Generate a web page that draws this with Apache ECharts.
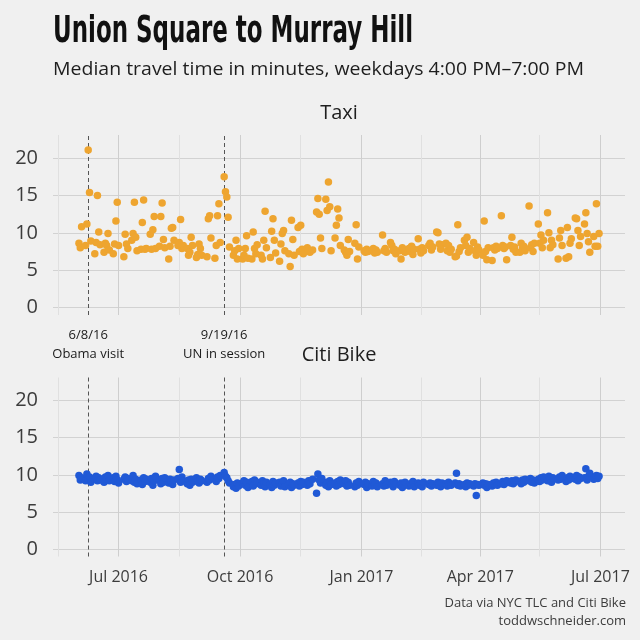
<!DOCTYPE html>
<html><head><meta charset="utf-8">
<script src="https://cdn.jsdelivr.net/npm/echarts@6/dist/echarts.min.js"></script>
<style>html,body{margin:0;padding:0;background:#f0f0f0}#c{width:640px;height:640px}</style>
</head><body><div id="c"></div><script>
// ---- data (one line per week, weekdays) ----
const dates = [
'2016-06-01','2016-06-02','2016-06-03',
'2016-06-06','2016-06-07','2016-06-08','2016-06-09','2016-06-10',
'2016-06-13','2016-06-14','2016-06-15','2016-06-16','2016-06-17',
'2016-06-20','2016-06-21','2016-06-22','2016-06-23','2016-06-24',
'2016-06-27','2016-06-28','2016-06-29','2016-06-30','2016-07-01',
'2016-07-05','2016-07-06','2016-07-07','2016-07-08',
'2016-07-11','2016-07-12','2016-07-13','2016-07-14','2016-07-15',
'2016-07-18','2016-07-19','2016-07-20','2016-07-21','2016-07-22',
'2016-07-25','2016-07-26','2016-07-27','2016-07-28','2016-07-29',
'2016-08-01','2016-08-02','2016-08-03','2016-08-04','2016-08-05',
'2016-08-08','2016-08-09','2016-08-10','2016-08-11','2016-08-12',
'2016-08-15','2016-08-16','2016-08-17','2016-08-18','2016-08-19',
'2016-08-22','2016-08-23','2016-08-24','2016-08-25','2016-08-26',
'2016-08-29','2016-08-30','2016-08-31','2016-09-01','2016-09-02',
'2016-09-06','2016-09-07','2016-09-08','2016-09-09',
'2016-09-12','2016-09-13','2016-09-14','2016-09-15','2016-09-16',
'2016-09-19','2016-09-20','2016-09-21','2016-09-22','2016-09-23',
'2016-09-26','2016-09-27','2016-09-28','2016-09-29','2016-09-30',
'2016-10-03','2016-10-04','2016-10-05','2016-10-06','2016-10-07',
'2016-10-10','2016-10-11','2016-10-12','2016-10-13','2016-10-14',
'2016-10-17','2016-10-18','2016-10-19','2016-10-20','2016-10-21',
'2016-10-24','2016-10-25','2016-10-26','2016-10-27','2016-10-28',
'2016-10-31','2016-11-01','2016-11-02','2016-11-03','2016-11-04',
'2016-11-07','2016-11-08','2016-11-09','2016-11-10','2016-11-11',
'2016-11-14','2016-11-15','2016-11-16','2016-11-17','2016-11-18',
'2016-11-21','2016-11-22','2016-11-23','2016-11-25',
'2016-11-28','2016-11-29','2016-11-30','2016-12-01','2016-12-02',
'2016-12-05','2016-12-06','2016-12-07','2016-12-08','2016-12-09',
'2016-12-12','2016-12-13','2016-12-14','2016-12-15','2016-12-16',
'2016-12-19','2016-12-20','2016-12-21','2016-12-22','2016-12-23',
'2016-12-27','2016-12-28','2016-12-29','2016-12-30',
'2017-01-03','2017-01-04','2017-01-05','2017-01-06',
'2017-01-09','2017-01-10','2017-01-11','2017-01-12','2017-01-13',
'2017-01-17','2017-01-18','2017-01-19','2017-01-20',
'2017-01-23','2017-01-24','2017-01-25','2017-01-26','2017-01-27',
'2017-01-30','2017-01-31','2017-02-01','2017-02-02','2017-02-03',
'2017-02-06','2017-02-07','2017-02-08','2017-02-09','2017-02-10',
'2017-02-13','2017-02-14','2017-02-15','2017-02-16','2017-02-17',
'2017-02-21','2017-02-22','2017-02-23','2017-02-24',
'2017-02-27','2017-02-28','2017-03-01','2017-03-02','2017-03-03',
'2017-03-06','2017-03-07','2017-03-08','2017-03-09','2017-03-10',
'2017-03-13','2017-03-14','2017-03-15','2017-03-16','2017-03-17',
'2017-03-20','2017-03-21','2017-03-22','2017-03-23','2017-03-24',
'2017-03-27','2017-03-28','2017-03-29','2017-03-30','2017-03-31',
'2017-04-03','2017-04-04','2017-04-05','2017-04-06','2017-04-07',
'2017-04-10','2017-04-11','2017-04-12','2017-04-13','2017-04-14',
'2017-04-17','2017-04-18','2017-04-19','2017-04-20','2017-04-21',
'2017-04-24','2017-04-25','2017-04-26','2017-04-27','2017-04-28',
'2017-05-01','2017-05-02','2017-05-03','2017-05-04','2017-05-05',
'2017-05-08','2017-05-09','2017-05-10','2017-05-11','2017-05-12',
'2017-05-15','2017-05-16','2017-05-17','2017-05-18','2017-05-19',
'2017-05-22','2017-05-23','2017-05-24','2017-05-25','2017-05-26',
'2017-05-30','2017-05-31','2017-06-01','2017-06-02',
'2017-06-05','2017-06-06','2017-06-07','2017-06-08','2017-06-09',
'2017-06-12','2017-06-13','2017-06-14','2017-06-15','2017-06-16',
'2017-06-19','2017-06-20','2017-06-21','2017-06-22','2017-06-23',
'2017-06-26','2017-06-27','2017-06-28','2017-06-29','2017-06-30'
];
const taxi = [
8.6,8.0,10.8,
8.3,11.2,21.1,15.4,8.9,
7.2,8.7,15.0,10.1,8.4,
7.4,8.6,8.3,9.9,7.7,
7.2,8.5,11.6,14.1,8.3,
6.8,9.8,8.5,7.9,
9.0,9.9,14.1,9.4,7.6,
7.8,11.4,14.4,7.8,7.9,
9.8,7.8,10.4,12.2,7.9,
8.2,12.2,14.0,9.1,8.0,
6.5,8.2,10.6,10.7,9.0,
8.3,8.7,11.8,7.9,8.3,
7.9,7.0,7.4,9.4,8.3,
6.7,7.1,8.5,7.9,7.0,
6.8,11.9,12.3,9.3,
6.6,8.3,12.3,13.9,8.7,
17.5,15.5,14.8,12.1,8.1,
7.0,7.6,9.0,6.5,7.9,
6.5,7.0,7.9,9.6,6.6,
6.5,10.1,7.9,7.2,8.4,
7.0,6.5,9.0,12.9,8.0,
6.7,10.2,11.9,9.0,7.3,
6.2,8.5,9.9,10.3,7.6,
7.2,5.5,11.7,9.1,7.0,
10.7,7.5,11.0,7.8,7.2,
8.0,7.6,7.4,7.7,
12.8,14.6,12.5,9.3,7.9,
14.5,13.0,16.8,13.5,7.6,
9.3,11.0,13.2,12.0,8.3,
7.7,7.4,7.0,9.1,7.5,
8.6,11.1,6.5,8.1,
7.6,7.4,7.8,7.5,
7.6,7.9,7.3,7.7,7.4,
9.7,7.6,7.9,7.4,
8.7,8.3,7.6,7.8,7.2,
7.6,6.5,8.0,7.7,7.4,
7.9,7.5,8.2,7.1,7.8,
9.2,7.8,7.3,8.0,7.6,
8.3,8.6,7.7,8.1,
10.1,10.0,8.5,7.8,8.4,
8.6,7.6,8.3,7.4,7.8,
6.8,6.9,11.1,7.5,8.0,
9.0,8.3,9.4,7.4,7.9,
8.7,7.6,7.0,8.1,7.7,
7.0,11.6,7.5,6.4,8.0,
6.3,8.0,7.7,8.2,7.9,
12.3,8.3,7.9,8.1,6.4,
8.3,9.4,7.8,8.1,7.4,
7.4,8.6,7.9,8.2,7.6,
13.6,8.0,8.4,7.5,8.6,
11.2,8.6,9.7,8.0,9.0,
12.7,10.0,8.0,9.0,8.4,
6.5,9.3,10.3,8.3,
6.6,10.7,6.8,8.6,9.2,
12.0,11.9,10.3,8.3,9.5,
11.2,12.7,9.9,8.8,7.4,
9.5,8.2,13.9,8.2,9.9
];
const bike = [
9.9,9.3,9.6,
9.2,10.1,9.4,9.7,9.0,
9.5,9.8,9.2,9.6,9.3,
9.0,9.7,9.4,9.9,9.2,
9.6,9.1,9.8,9.3,8.9,
9.4,9.7,9.1,9.5,
9.2,9.9,9.0,9.4,8.8,
9.3,8.7,9.6,9.1,9.4,
9.0,9.5,8.6,9.2,9.8,
9.3,8.8,9.5,9.0,9.6,
8.9,9.4,9.1,8.7,9.3,
9.5,10.7,9.0,9.7,9.2,
8.8,9.3,8.6,9.4,9.0,
9.6,9.1,8.9,9.4,9.2,
9.0,9.5,9.3,9.8,
9.4,9.1,9.7,9.5,9.9,
10.3,9.8,9.6,9.2,8.9,
8.4,8.7,8.2,8.9,8.5,
8.9,9.2,8.6,9.0,8.3,
9.1,8.5,9.3,8.8,9.0,
8.6,9.2,8.9,8.4,9.0,
8.7,8.3,9.1,8.6,8.9,
9.0,8.5,8.8,9.2,8.4,
8.7,9.0,8.3,8.8,8.6,
8.9,8.5,9.1,8.7,9.0,
8.6,9.2,8.8,9.4,
7.5,10.1,9.3,8.9,9.5,
8.6,9.0,8.4,9.2,8.7,
8.9,8.5,9.1,8.7,9.3,
8.8,9.2,8.5,9.0,8.6,
8.4,8.9,8.6,9.1,
8.7,9.0,8.3,8.8,
8.5,9.1,8.7,8.9,8.4,
8.8,8.5,9.2,8.6,
9.0,8.7,8.4,9.1,8.8,
8.6,8.9,8.3,8.7,9.0,
8.5,8.8,8.6,9.1,8.4,
8.9,8.6,8.8,8.4,9.0,
8.7,8.9,8.5,8.8,
8.6,9.0,8.7,8.4,8.9,
8.8,8.5,9.0,8.7,8.6,
8.9,10.2,8.6,8.8,8.5,
8.7,8.4,8.9,8.6,8.8,
8.5,8.8,7.2,8.7,8.6,
8.9,8.6,8.8,8.3,8.7,
8.5,8.9,8.7,9.0,8.6,
8.8,9.1,8.7,8.9,9.2,
8.9,9.2,8.8,9.0,9.3,
9.1,8.8,9.3,9.0,9.4,
9.2,9.5,9.0,9.3,8.9,
9.4,9.1,9.6,9.3,9.7,
9.2,9.8,9.5,9.0,9.6,
9.3,9.7,9.4,9.9,
9.1,9.6,9.3,9.8,9.5,
9.4,9.9,9.2,9.7,9.5,
9.6,10.8,9.3,9.8,10.2,
9.4,9.7,9.9,9.5,9.8
];
const panels = ['Taxi', 'Citi Bike'];
const eventDates = ['2016-06-08', '2016-09-19'];
const eventLabels = ['6/8/16\nObama visit', '9/19/16\nUN in session'];
const minorDates = ['2016-05-16', '2016-08-16', '2016-11-16', '2017-02-15', '2017-05-16'];
const xRange = ['2016-05-12T08:00:00', '2017-07-19T16:00:00'];
const yRange = [-1, 23.1];
const monthNames = ['Jan','Feb','Mar','Apr','May','Jun','Jul','Aug','Sep','Oct','Nov','Dec'];
const titleText = 'Union Square to Murray Hill';
const subText = 'Median travel time in minutes, weekdays 4:00 PM\u20137:00 PM';
const footer = ['Data via NYC TLC and Citi Bike', 'toddwschneider.com'];

if (taxi.length !== dates.length || bike.length !== dates.length) {
  throw new Error('length mismatch ' + dates.length + ' ' + taxi.length + ' ' + bike.length);
}

// ---- chart ----
const ts = s => echarts.time.parse(s).getTime();
const TXT = '#3c3c3c';
const FONT = '"Open Sans", "Noto Sans", sans-serif';
function measure(text, font) { const ctx = document.createElement('canvas').getContext('2d'); ctx.font = font; return ctx.measureText(text).width; }
const titleFont = 'bold 38px "DejaVu Sans Condensed", "DejaVu Sans", sans-serif';
const titleScale = 360 / measure(titleText, titleFont);
const subFont = '18px "Open Sans", sans-serif';
const subScale = 531 / measure(subText, subFont);

const chart = echarts.init(document.getElementById('c'), null, { renderer: 'canvas' });

function xAx(i, showLabel) {
  return {
    type: 'time', gridIndex: i, min: ts(xRange[0]), max: ts(xRange[1]), splitNumber: 4,
    axisLine: { show: false }, axisTick: { show: false },
    axisLabel: {
      show: showLabel, showMinLabel: false, showMaxLabel: false, hideOverlap: false,
      color: TXT, fontSize: 16, fontFamily: FONT, margin: 13,
      formatter: v => { const d = new Date(v); return monthNames[d.getMonth()] + ' ' + d.getFullYear(); }
    },
    splitLine: { show: true, showMinLine: false, showMaxLine: false, lineStyle: { color: '#cecece', width: 1 } }
  };
}
function yAx(i) {
  return {
    type: 'value', gridIndex: i, min: yRange[0], max: yRange[1], splitNumber: 5,
    axisLine: { show: false }, axisTick: { show: false },
    axisLabel: { showMinLabel: false, showMaxLabel: false, color: TXT, fontSize: 20, fontFamily: FONT, margin: 15 },
    splitLine: { show: true, showMinLine: false, showMaxLine: false, lineStyle: { color: '#d2d2d2', width: 1 } }
  };
}
function marks(withLabels) {
  return {
    silent: true, symbol: ['none', 'none'], z: 1, animation: false,
    label: { show: false },
    data: [
      ...minorDates.map(d => ({ xAxis: ts(d), lineStyle: { color: '#e0e0e0', width: 1, type: 'solid' }, label: { show: false } })),
      ...eventDates.map((d, k) => ({
        xAxis: ts(d), lineStyle: { color: '#555', width: 1, type: [4, 3] },
        label: withLabels ? { show: true, position: 'start', formatter: eventLabels[k], color: '#1a1a1a', fontSize: 13, lineHeight: 19, fontFamily: FONT, distance: 11, align: 'center' } : { show: false }
      }))
    ]
  };
}

chart.setOption({
  animation: false,
  backgroundColor: '#f0f0f0',
  grid: [
    { left: 53, right: 15, top: 135, height: 180 },
    { left: 53, right: 15, top: 377.5, height: 179 }
  ],
  xAxis: [xAx(0, false), xAx(1, true)],
  yAxis: [yAx(0), yAx(1)],
  series: [
    { name: panels[0], type: 'scatter', xAxisIndex: 0, yAxisIndex: 0, z: 3, symbolSize: 7.5,
      itemStyle: { color: '#eea530', opacity: 1 }, data: dates.map((d, i) => [d, taxi[i]]), markLine: marks(true) },
    { name: panels[1], type: 'scatter', xAxisIndex: 1, yAxisIndex: 1, z: 3, symbolSize: 7.5,
      itemStyle: { color: '#2059d6', opacity: 1 }, data: dates.map((d, i) => [d, bike[i]]), markLine: marks(false) }
  ],
  graphic: [
    { type: 'text', x: 53, y: 32, scaleX: titleScale, style: { text: titleText, font: titleFont, fill: '#111', verticalAlign: 'middle', textVerticalAlign: 'middle' } },
    { type: 'text', x: 53, y: 70, scaleX: subScale, style: { text: subText, font: subFont, fill: '#1e1e1e', verticalAlign: 'middle', textVerticalAlign: 'middle' } },
    { type: 'text', x: 339, y: 113, style: { text: panels[0], font: '20px "Open Sans", sans-serif', fill: '#1e1e1e', align: 'center', textAlign: 'center', verticalAlign: 'middle', textVerticalAlign: 'middle' } },
    { type: 'text', x: 339, y: 355, style: { text: panels[1], font: '20px "Open Sans", sans-serif', fill: '#1e1e1e', align: 'center', textAlign: 'center', verticalAlign: 'middle', textVerticalAlign: 'middle' } },
    { type: 'text', x: 626, y: 603, style: { text: footer[0], font: '13px "Open Sans", sans-serif', fill: TXT, align: 'right', textAlign: 'right', verticalAlign: 'middle', textVerticalAlign: 'middle' } },
    { type: 'text', x: 626, y: 621, style: { text: footer[1], font: '13px "Open Sans", sans-serif', fill: TXT, align: 'right', textAlign: 'right', verticalAlign: 'middle', textVerticalAlign: 'middle' } }
  ]
});
</script></body></html>
